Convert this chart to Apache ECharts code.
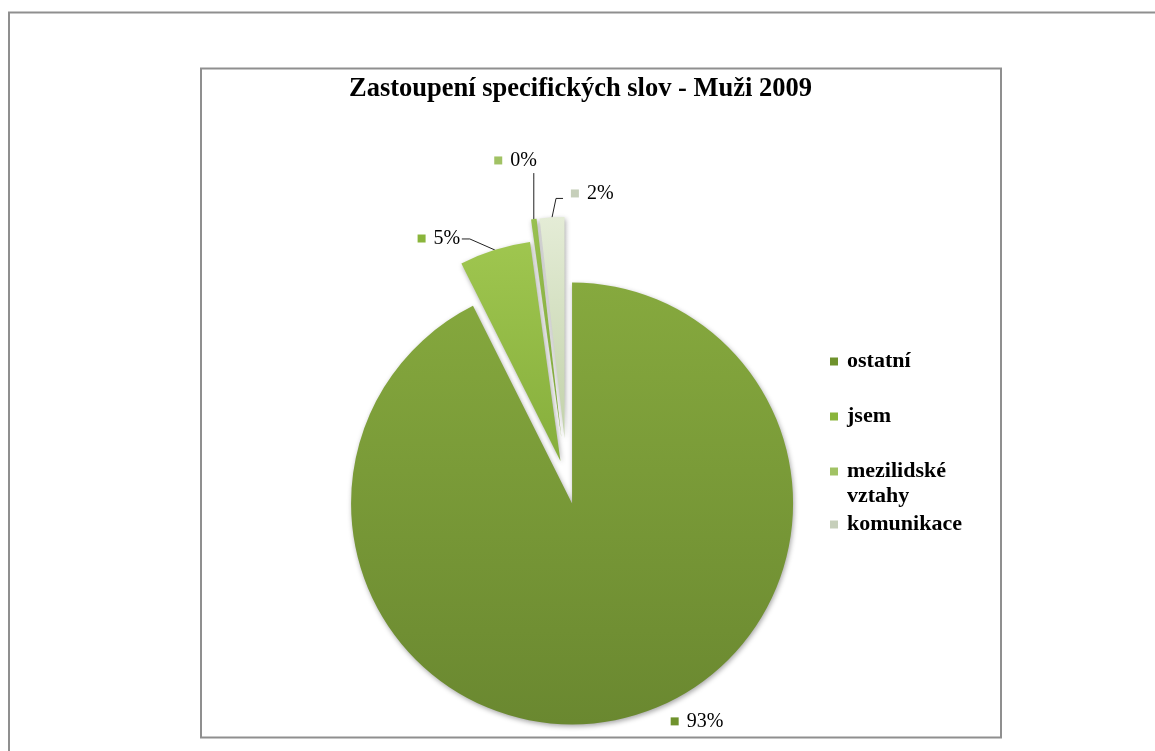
<!DOCTYPE html>
<html><head><meta charset="utf-8">
<script src="https://cdn.jsdelivr.net/npm/echarts@6/dist/echarts.min.js"></script>
<style>html,body{margin:0;padding:0;background:#fff}#c{width:1155px;height:751px}</style>
</head><body><div id="c"></div>
<script>
// ---- data ----
const titleText = 'Zastoupení specifických slov - Muži 2009';
const categories = ['ostatní', 'jsem', 'mezilidské vztahy', 'komunikace'];
const values = [92.6, 5.2, 0.4, 1.8];
const legendLabels = ['ostatní', 'jsem', ' \nmezilidské\nvztahy', 'komunikace'];

// ---- style ----
const sliceTop = ['#86a93e', '#9fc64f', '#98c04f', '#e4ecd6'];
const sliceBottom = ['#6a8830', '#86ae3c', '#7fa83b', '#c2d2aa'];
const keyColors = ['#6f922d', '#8ab53b', '#a1c264', '#c6cfba'];
const farGroup = [false, false, true, true];
const lineLen = [[3, 42], [12, 26], [47, 0], [20, 0]];
const FONT = 'Liberation Serif';

function grad(i) {
  return {type: 'linear', x: 0, y: 0, x2: 0, y2: 1,
    colorStops: [{offset: 0, color: sliceTop[i]}, {offset: 1, color: sliceBottom[i]}]};
}
const rich = {t: {fontFamily: FONT, fontSize: 20, color: '#000', padding: [0, 0, 0, 8]}};
keyColors.forEach((c, i) => { rich['k' + i] = {width: 8, height: 8, backgroundColor: c}; });

function labelLayout(p) {
  const i = p.dataIndex;
  const pts = p.labelLinePoints;
  if (!pts || !pts[0]) return {};
  const p0 = pts[0];
  if (i === 1) {
    return {labelLinePoints: [p0, [p0[0] - 25, p0[1] - 11], [p0[0] - 33, p0[1] - 11]]};
  }
  if (i === 2) {
    return {labelLinePoints: [p0, [p0[0], p0[1] - 40], [p0[0], p0[1] - 46]], dx: 14, dy: -12};
  }
  if (i === 3) {
    return {labelLinePoints: [p0, [p0[0] + 4, p0[1] - 19], [p0[0] + 11, p0[1] - 19]],
            align: 'left', dx: 25, dy: -4};
  }
  return {};
}

function buildSeries(isFar) {
  return {
    type: 'pie', center: [567, 482], radius: 221, startAngle: 90, clockwise: true,
    selectedMode: 'multiple', selectedOffset: isFar ? 44 : 22,
    avoidLabelOverlap: false, animation: false, emphasis: {scale: false},
    label: {position: 'outside', rich: rich, distanceToLabelLine: 5,
      formatter: p => '{k' + p.dataIndex + '|}{t|' + Math.round(p.percent) + '%}'},
    labelLine: {lineStyle: {color: '#222', width: 1}},
    labelLayout: labelLayout,
    data: categories.map((name, i) => {
      const own = farGroup[i] === isFar;
      return {
        name: name, value: values[i], selected: true,
        itemStyle: own ? {color: grad(i), borderWidth: 0, shadowBlur: 5, shadowOffsetX: 1,
                          shadowOffsetY: 2, shadowColor: 'rgba(0,0,0,0.35)'}
                       : {color: 'rgba(0,0,0,0)', borderWidth: 0},
        label: {show: own},
        labelLine: {show: own && i !== 0, length: lineLen[i][0], length2: lineLen[i][1]}
      };
    })
  };
}

const legendPad = [[25, 0, 25, 4], [5, 0, 5, 4], [0, 0, 0, 4], [3, 0, 3, 4]];
const chart = echarts.init(document.getElementById('c'), null, {renderer: 'canvas'});
chart.setOption({
  backgroundColor: '#fff',
  title: {text: titleText, left: 349, top: 76, padding: 0,
    textStyle: {fontFamily: FONT, fontWeight: 'bold', fontSize: 26.5, color: '#000'}},
  legend: {
    orient: 'vertical', left: 830, top: 324, padding: 0, itemGap: 0,
    itemWidth: 8, itemHeight: 8, icon: 'rect', selectedMode: false,
    textStyle: {fontFamily: FONT, fontWeight: 'bold', fontSize: 22, lineHeight: 25, color: '#000'},
    formatter: n => legendLabels[categories.indexOf(n)],
    data: categories.map((n, i) => ({name: n, itemStyle: {color: keyColors[i]},
      textStyle: {padding: legendPad[i]}}))
  },
  graphic: [
    {type: 'rect', silent: true, z: -1, shape: {x: 9, y: 12.5, width: 1300, height: 900},
     style: {fill: 'none', stroke: '#8f8f8f', lineWidth: 2}},
    {type: 'rect', silent: true, z: -1, shape: {x: 201, y: 68.5, width: 800, height: 669},
     style: {fill: 'none', stroke: '#8f8f8f', lineWidth: 2}}
  ],
  series: [buildSeries(false), buildSeries(true)]
});
</script></body></html>
